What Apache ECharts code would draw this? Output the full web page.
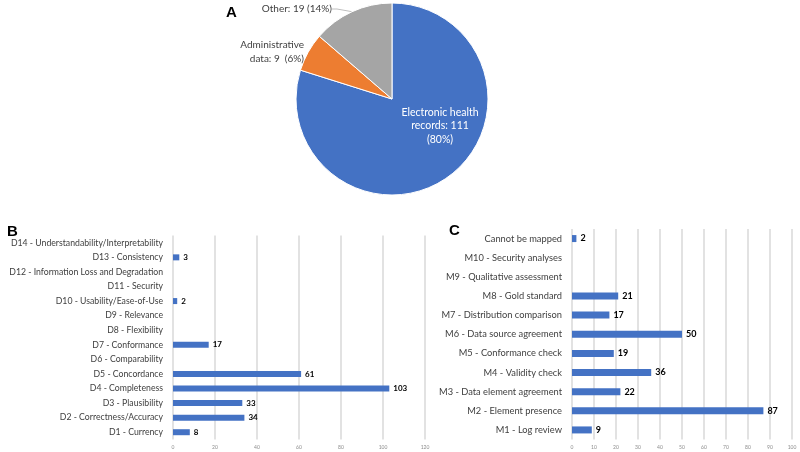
<!DOCTYPE html>
<html><head><meta charset="utf-8">
<script src="https://cdn.jsdelivr.net/npm/echarts@6/dist/echarts.min.js"></script>
<style>html,body{margin:0;padding:0;background:#fff}#c{width:800px;height:452px}</style>
</head><body><div id="c"></div>
<script>
const pieNames = ['Electronic health records', 'Administrative data', 'Other'];
const pieValues = [111, 9, 19];
const dimCategories = ['D1 - Currency','D2 - Correctness/Accuracy','D3 - Plausibility','D4 - Completeness','D5 - Concordance','D6 - Comparability','D7 - Conformance','D8 - Flexibility','D9 - Relevance','D10 - Usability/Ease-of-Use','D11 - Security','D12 - Information Loss and Degradation','D13 - Consistency','D14 - Understandability/Interpretability'];
const dimValues = [8, 34, 33, 103, 61, 0, 17, 0, 0, 2, 0, 0, 3, 0];
const methodCategories = ['M1 - Log review','M2 - Element presence','M3 - Data element agreement','M4 - Validity check','M5 - Conformance check','M6 - Data source agreement','M7 - Distribution comparison','M8 - Gold standard','M9 - Qualitative assessment','M10 - Security analyses','Cannot be mapped'];
const methodValues = [9, 87, 22, 36, 19, 50, 17, 21, 0, 0, 2];
const dimTicks = {min: 0, max: 120, interval: 20};
const methodTicks = {min: 0, max: 100, interval: 10};

const FONT = 'Lato';
const total = pieValues.reduce((a, b) => a + b, 0);
function pct(v){ return Math.round(v / total * 100); }
const pieLabelText = [
  'Electronic health\nrecords: ' + pieValues[0] + '\n(' + pct(pieValues[0]) + '%)',
  'Administrative\ndata: ' + pieValues[1] + '  (' + pct(pieValues[1]) + '%)',
  'Other: ' + pieValues[2] + ' (' + pct(pieValues[2]) + '%)'
];
const pieColors = ['#4472C4', '#ED7D31', '#A5A5A5'];

function barLabel(p){ return p.value ? String(p.value) : ''; }

const chart = echarts.init(document.getElementById('c'), null, {renderer: 'canvas'});
const valueAxisCommon = {
  type: 'value',
  axisLine: {show: false}, axisTick: {show: false},
  splitLine: {show: true, lineStyle: {color: '#d9d9d9', width: 1.5}},
  axisLabel: {fontSize: 5, color: '#8c8c8c', fontFamily: FONT, margin: 5}
};
const catAxisCommon = {
  type: 'category',
  axisLine: {show: false}, axisTick: {show: false},
  axisLabel: {fontSize: 9.3, color: '#404040', fontFamily: FONT, margin: 10}
};
chart.setOption({
  animation: false,
  title: [
    {text: 'A', left: 221, top: 0, textStyle: {fontSize: 15, fontWeight: 'bold', color: '#000', fontFamily: 'Liberation Sans'}},
    {text: 'B', left: 2, top: 219, textStyle: {fontSize: 15, fontWeight: 'bold', color: '#000', fontFamily: 'Liberation Sans'}},
    {text: 'C', left: 444, top: 218, textStyle: {fontSize: 15, fontWeight: 'bold', color: '#000', fontFamily: 'Liberation Sans'}}
  ],
  grid: [
    {left: 173, right: 375, top: 235.5, height: 204, containLabel: false, outerBoundsMode: 'none'},
    {left: 572, right: 8, top: 229, height: 210.5, containLabel: false, outerBoundsMode: 'none'}
  ],
  xAxis: [
    Object.assign({gridIndex: 0}, valueAxisCommon, dimTicks),
    Object.assign({gridIndex: 1}, valueAxisCommon, methodTicks)
  ],
  yAxis: [
    Object.assign({gridIndex: 0, data: dimCategories}, catAxisCommon, {axisLabel: Object.assign({}, catAxisCommon.axisLabel, {fontSize: 8.7})}),
    Object.assign({gridIndex: 1, data: methodCategories}, catAxisCommon)
  ],
  series: [
    {
      type: 'pie', center: [392, 99], radius: 96, startAngle: 90, clockwise: true,
      data: pieNames.map((n, i) => ({name: n, value: pieValues[i], itemStyle: {color: pieColors[i]},
        label: i === 0 ? {color: '#fff', fontSize: 10.5, lineHeight: 13.5} : {},
        labelLine: {show: i === 2}})),
      itemStyle: {borderColor: '#fff', borderWidth: 1},
      label: {
        show: true, formatter: p => pieLabelText[p.dataIndex],
        fontFamily: FONT, fontSize: 10, color: '#404040', lineHeight: 14
      },
      labelLine: {show: true, length: 5, length2: 5, lineStyle: {color: '#bfbfbf', width: 1}},
      labelLayout: function (p) {
        if (p.dataIndex === 0) return {x: 440, y: 126, align: 'center', verticalAlign: 'middle'};
        if (p.dataIndex === 1) return {x: 304, y: 52, align: 'right', verticalAlign: 'middle'};
        return {x: 332, y: 9, align: 'right', verticalAlign: 'middle'};
      }
    },
    {
      type: 'bar', xAxisIndex: 0, yAxisIndex: 0, data: dimValues, barWidth: 6,
      itemStyle: {color: '#4472C4'},
      label: {show: true, position: 'right', formatter: barLabel, fontFamily: FONT, fontWeight: 'bold', fontSize: 8, color: '#000', distance: 4}
    },
    {
      type: 'bar', xAxisIndex: 1, yAxisIndex: 1, data: methodValues, barWidth: 7,
      itemStyle: {color: '#4472C4'},
      label: {show: true, position: 'right', formatter: barLabel, fontFamily: FONT, fontWeight: 'bold', fontSize: 9, color: '#000', distance: 4}
    }
  ]
});
</script>
</body></html>
